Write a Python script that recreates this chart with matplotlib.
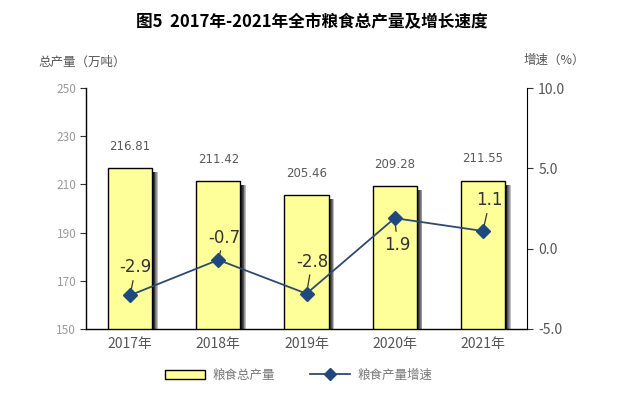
import matplotlib
matplotlib.use("Agg")
import matplotlib.pyplot as plt
from matplotlib.lines import Line2D
from matplotlib.patches import Patch, Rectangle
import numpy as np

plt.rcParams['font.family'] = ['Noto Sans CJK SC', 'DejaVu Sans']

categories = ["2017年", "2018年", "2019年", "2020年", "2021年"]
output = [216.81, 211.42, 205.46, 209.28, 211.55]
growth = [-2.9, -0.7, -2.8, 1.9, 1.1]
left_ticks = [150, 170, 190, 210, 230, 250]
right_ticks = [-5.0, 0.0, 5.0, 10.0]

fig = plt.figure(figsize=(6.24, 3.98), dpi=100)
ax = fig.add_axes([86/624, 1-329/398, 441/624, 241/398])
ax2 = ax.twinx()

x = np.arange(len(categories))
bw = 0.5
ax.set_xlim(-0.5, len(categories) - 0.5)
ax.set_ylim(150, 250)

# shadows
for xi, v in zip(x, output):
    n = 7
    for k in range(n):
        ax.add_patch(Rectangle((xi + bw/2 + k*0.009, 150), 0.009, v - 150 - 1.6,
                               facecolor='black', alpha=(1 - k/n)**0.7,
                               edgecolor='none', zorder=1))

ax.bar(x, output, width=bw, bottom=0, color='#FFFF99', edgecolor='black',
       linewidth=1.0, zorder=2)
for xi, v in zip(x, output):
    ax.annotate(f"{v:.2f}", (xi, v), xytext=(0, 11), textcoords='offset points',
                ha='center', va='bottom', fontsize=8.5, color='#5a5a5a',
                family='DejaVu Sans')

ax.set_yticks(left_ticks)
ax.set_yticklabels([str(t) for t in left_ticks], fontsize=8.5, color='#9a9a9a')
ax.set_xticks(x)
ax.set_xticklabels(categories, fontsize=10, color='#555555')
ax.tick_params(axis='x', length=0, pad=6)
ax.tick_params(axis='y', direction='out', length=4, color='#333333', pad=3)
ax.spines['top'].set_visible(False)
ax.spines['right'].set_visible(False)
for s in ['left', 'bottom']:
    ax.spines[s].set_color('black')
    ax.spines[s].set_linewidth(1.0)

ax2.set_ylim(-5, 10)
ax2.plot(x, growth, color='#2E4A70', linewidth=1.3, marker='D', markersize=7,
         markerfacecolor='#1F497D', markeredgecolor='#1F497D', zorder=5)
ax2.set_yticks(right_ticks)
ax2.set_yticklabels([f"{t:.1f}" for t in right_ticks], fontsize=10, color='#555555')
ax2.tick_params(axis='y', direction='out', length=4, color='#333333', pad=4)
ax2.spines['top'].set_visible(False)
ax2.spines['left'].set_visible(False)
ax2.spines['bottom'].set_visible(False)
ax2.spines['right'].set_color('black')

offsets = [(4, 20), (4, 16), (4, 23), (2, -19), (5, 22)]
for xi, g, off in zip(x, growth, offsets):
    ax2.annotate(f"{g:.1f}", (xi, g), xytext=off, textcoords='offset points',
                 ha='center', va='center', fontsize=12, color='#333333',
                 family='DejaVu Sans',
                 arrowprops=dict(arrowstyle='-', color='#333333', lw=0.9,
                                 shrinkA=1, shrinkB=4))

fig.text(0.5, 1-22/398, "图5  2017年-2021年全市粮食总产量及增长速度", ha='center',
         va='center', fontsize=12, fontweight='bold', color='black')
fig.text(38/624, 1-62/398, "总产量（万吨）", ha='left', va='center', fontsize=9,
         color='#555555')
fig.text(524/624, 1-60/398, "增速（%）", ha='left', va='center', fontsize=9,
         color='#555555')

handles = [Patch(facecolor='#FFFF99', edgecolor='black', linewidth=1.0),
           Line2D([0], [0], color='#2E4A70', lw=1.3, marker='D', markersize=6,
                  markerfacecolor='#1F497D', markeredgecolor='#1F497D')]
fig.legend(handles, ["粮食总产量", "粮食产量增速"], loc='center',
           bbox_to_anchor=(0.479, 1-375/398), ncol=2, frameon=False, fontsize=9,
           labelcolor='#777777', handlelength=3.2, columnspacing=2.8,
           handletextpad=0.6)

fig.savefig("out.png", dpi=100)
